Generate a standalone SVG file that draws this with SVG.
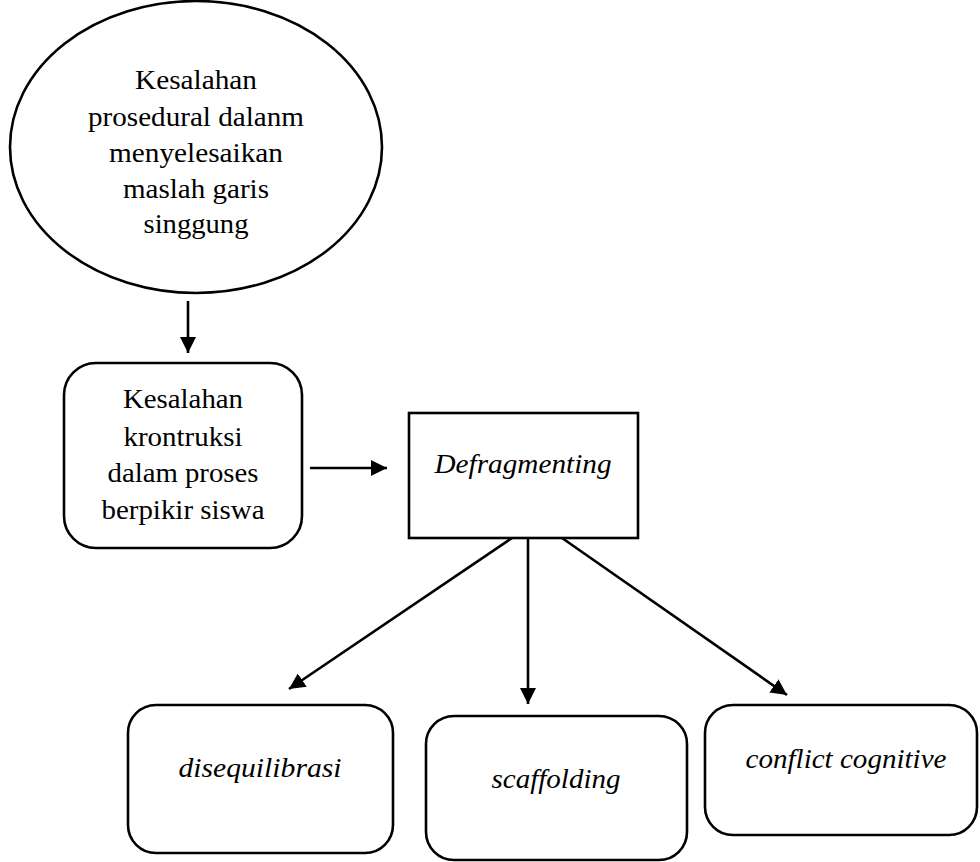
<svg xmlns="http://www.w3.org/2000/svg" width="980" height="862" viewBox="0 0 980 862">
<style>
.shape{fill:#fff;stroke:#000;stroke-width:2.6}
.t{font-family:"Liberation Serif","Times New Roman",serif;font-size:28px;fill:#000;text-anchor:middle}
.i{font-style:italic}
.c{stroke:#000;stroke-width:2.6;fill:none;marker-end:url(#ah)}
</style>
<defs>
<marker id="ah" markerUnits="userSpaceOnUse" markerWidth="17" markerHeight="17" viewBox="0 0 17 17" refX="16" refY="8" orient="auto">
<path d="M0,0 L16,8 L0,16 z" fill="#000"/>
</marker>
</defs>
<rect width="980" height="862" fill="#fff"/>
<g id="n1">
<ellipse class="shape" cx="196" cy="147" rx="186" ry="146"/>
<text class="t" x="196" y="89" textLength="122" lengthAdjust="spacingAndGlyphs">Kesalahan</text>
<text class="t" x="196" y="126" textLength="216" lengthAdjust="spacingAndGlyphs">prosedural dalanm</text>
<text class="t" x="196" y="162" textLength="174" lengthAdjust="spacingAndGlyphs">menyelesaikan</text>
<text class="t" x="196" y="198" textLength="146" lengthAdjust="spacingAndGlyphs">maslah garis</text>
<text class="t" x="196" y="233" textLength="105" lengthAdjust="spacingAndGlyphs">singgung</text>
</g>
<g id="n2">
<rect class="shape" x="64" y="363" width="238" height="185" rx="32"/>
<text class="t" x="183" y="408" textLength="120" lengthAdjust="spacingAndGlyphs">Kesalahan</text>
<text class="t" x="183" y="446" textLength="119" lengthAdjust="spacingAndGlyphs">krontruksi</text>
<text class="t" x="183" y="482" textLength="151" lengthAdjust="spacingAndGlyphs">dalam proses</text>
<text class="t" x="183" y="519" textLength="163" lengthAdjust="spacingAndGlyphs">berpikir siswa</text>
</g>
<g id="n3">
<rect class="shape" x="409" y="413" width="229" height="125"/>
<text class="t i" x="523" y="473" textLength="177" lengthAdjust="spacingAndGlyphs">Defragmenting</text>
</g>
<g id="n4">
<rect class="shape" x="128" y="705" width="265" height="148" rx="28"/>
<text class="t i" x="260" y="777" textLength="163" lengthAdjust="spacingAndGlyphs">disequilibrasi</text>
</g>
<g id="n5">
<rect class="shape" x="426" y="716" width="261" height="144" rx="28"/>
<text class="t i" x="556" y="788" textLength="129" lengthAdjust="spacingAndGlyphs">scaffolding</text>
</g>
<g id="n6">
<rect class="shape" x="705" y="705" width="272" height="130" rx="28"/>
<text class="t i" x="846" y="768" textLength="201" lengthAdjust="spacingAndGlyphs">conflict cognitive</text>
</g>
<g id="connectors">
<line class="c" x1="188" y1="301" x2="188" y2="353"/>
<line class="c" x1="310" y1="468" x2="387" y2="468"/>
<line class="c" x1="512" y1="538" x2="289" y2="689"/>
<line class="c" x1="528" y1="538" x2="528" y2="704"/>
<line class="c" x1="562" y1="538" x2="787" y2="695"/>
</g>
</svg>
